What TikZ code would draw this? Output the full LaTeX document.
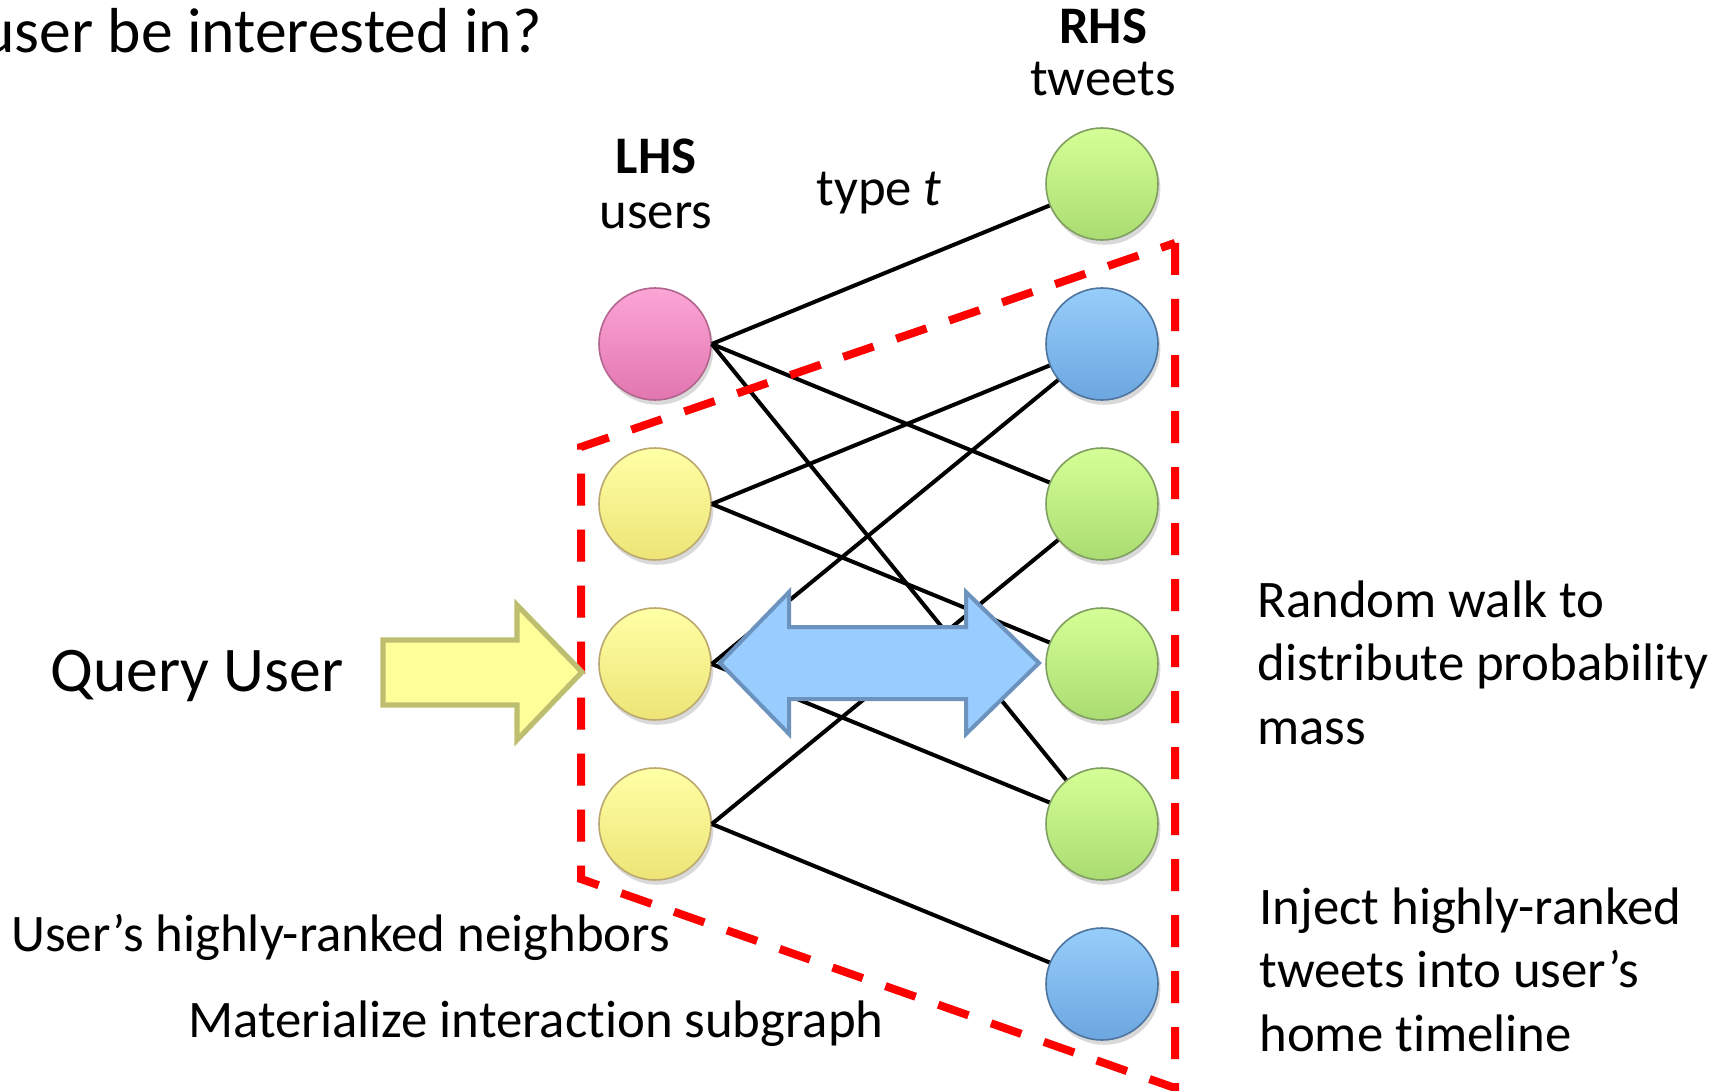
\documentclass[tikz,border=0pt]{standalone}
\usepackage{fontspec}
\setmainfont{Carlito}[Ligatures={NoCommon,NoRare}]
\usetikzlibrary{shadows}

\definecolor{pinktop}{RGB}{252,165,214}
\definecolor{pinkbot}{RGB}{226,118,176}
\definecolor{pinkrim}{RGB}{178,102,142}
\definecolor{yeltop}{RGB}{255,255,165}
\definecolor{yelbot}{RGB}{236,228,118}
\definecolor{yelrim}{RGB}{186,168,110}
\definecolor{grntop}{RGB}{212,255,150}
\definecolor{grnbot}{RGB}{170,220,114}
\definecolor{grnrim}{RGB}{128,158,98}
\definecolor{blutop}{RGB}{150,206,250}
\definecolor{blubot}{RGB}{108,166,224}
\definecolor{blurim}{RGB}{78,116,158}
\definecolor{qfill}{RGB}{255,255,153}
\definecolor{qline}{RGB}{190,190,112}
\definecolor{wfill}{RGB}{153,204,255}
\definecolor{wline}{RGB}{108,146,190}
\definecolor{walk}{RGB}{255,0,0}

\tikzset{
  ball/.style={circle, minimum size=56pt, inner sep=0pt, line width=0.8pt,
    drop shadow={shadow xshift=1.2pt, shadow yshift=-2.4pt, opacity=0.3}},
  pinkball/.style={ball, draw=pinkrim, top color=pinktop, bottom color=pinkbot},
  yelball/.style={ball, draw=yelrim, top color=yeltop, bottom color=yelbot},
  grnball/.style={ball, draw=grnrim, top color=grntop, bottom color=grnbot},
  bluball/.style={ball, draw=blurim, top color=blutop, bottom color=blubot},
  edge/.style={draw=black, line width=2pt},
  label/.style={font=\fontsize{26.4pt}{31.8pt}\selectfont, inner sep=0pt, anchor=base west},
  biglabel/.style={font=\fontsize{31.8pt}{38pt}\selectfont, inner sep=0pt},
  region/.style={draw=walk, line width=4pt, dash pattern=on 16pt off 12pt, miter limit=10},
}

\begin{document}
\begin{tikzpicture}[x=0.5pt,y=-0.5pt]
\useasboundingbox (0,0) rectangle (1729,1091);
\clip (0,0) rectangle (1729,1091);

% headings and captions
\node[biglabel, anchor=base east] (title) at (542,53) {user be interested in?};
\node[biglabel, anchor=base west] (query) at (50,691) {Query User};
\node[label, anchor=base] (lhs) at (656,174) {\textbf{LHS}};
\node[label, anchor=base] (users) at (656,229) {users};
\node[label, anchor=base] (rhs) at (1103,44) {\textbf{RHS}};
\node[label, anchor=base] (tweets) at (1103,96) {tweets};
\node[label] (type) at (816,206) {type \textit{t}};
\node[label] (walktext) at (1257,617)
  {\begin{tabular}[t]{@{}l@{}}Random walk to\\distribute probability\\mass\end{tabular}};
\node[label] (inject) at (1259,924)
  {\begin{tabular}[t]{@{}l@{}}Inject highly-ranked\\tweets into user’s\\home timeline\end{tabular}};
\node[label] (neigh) at (11,951) {User’s highly-ranked neighbors};
\node[label] (mat) at (188,1037) {Materialize interaction subgraph};

% node positions
\coordinate (pl1) at (655,344);
\coordinate (pl2) at (655,504);
\coordinate (pl3) at (655,664);
\coordinate (pl4) at (655,824);
\coordinate (pr1) at (1102,184);
\coordinate (pr2) at (1102,344);
\coordinate (pr3) at (1102,504);
\coordinate (pr4) at (1102,664);
\coordinate (pr5) at (1102,824);
\coordinate (pr6) at (1102,984);

% users (left) and tweets (right)
\node[pinkball] (l1) at (pl1) {};
\node[yelball]  (l2) at (pl2) {};
\node[yelball]  (l3) at (pl3) {};
\node[yelball]  (l4) at (pl4) {};
\node[grnball]  (r1) at (pr1) {};
\node[bluball]  (r2) at (pr2) {};
\node[grnball]  (r3) at (pr3) {};
\node[grnball]  (r4) at (pr4) {};
\node[grnball]  (r5) at (pr5) {};
\node[bluball]  (r6) at (pr6) {};

% interaction edges
\draw[edge] (l1.east) -- (r1);
\draw[edge] (l1.east) -- (r3);
\draw[edge] (l1.east) -- (r5);
\draw[edge] (l2.east) -- (r2);
\draw[edge] (l2.east) -- (r4);
\draw[edge] (l3.east) -- (r2);
\draw[edge] (l3.east) -- (r5);
\draw[edge] (l4.east) -- (r3);
\draw[edge] (l4.east) -- (r6);

% materialized subgraph outline
\coordinate (c1) at (1175,243);
\coordinate (c2) at (1175,1088);
\coordinate (c3) at (581,879);
\coordinate (c4) at (581,447);
\draw[region, draw=black, opacity=0.18, xshift=1.4pt, yshift=-1.4pt] (c1) -- (c2) -- (c3) -- (c4) -- cycle;
\draw[region] (c1) -- (c2) -- (c3) -- (c4) -- cycle;

% query arrow
\draw[fill=qfill, draw=qline, line width=2.6pt, line join=miter]
  (383,640) -- (517,640) -- (517,605) -- (582,672) -- (517,740) -- (517,705) -- (383,705) -- cycle;

% random walk double arrow
\draw[fill=wfill, draw=wline, line width=2pt, line join=miter]
  (720,663) -- (789,592) -- (789,627) -- (966,627) -- (966,592) -- (1039,663)
  -- (966,734) -- (966,699) -- (789,699) -- (789,734) -- cycle;
\end{tikzpicture}
\end{document}
